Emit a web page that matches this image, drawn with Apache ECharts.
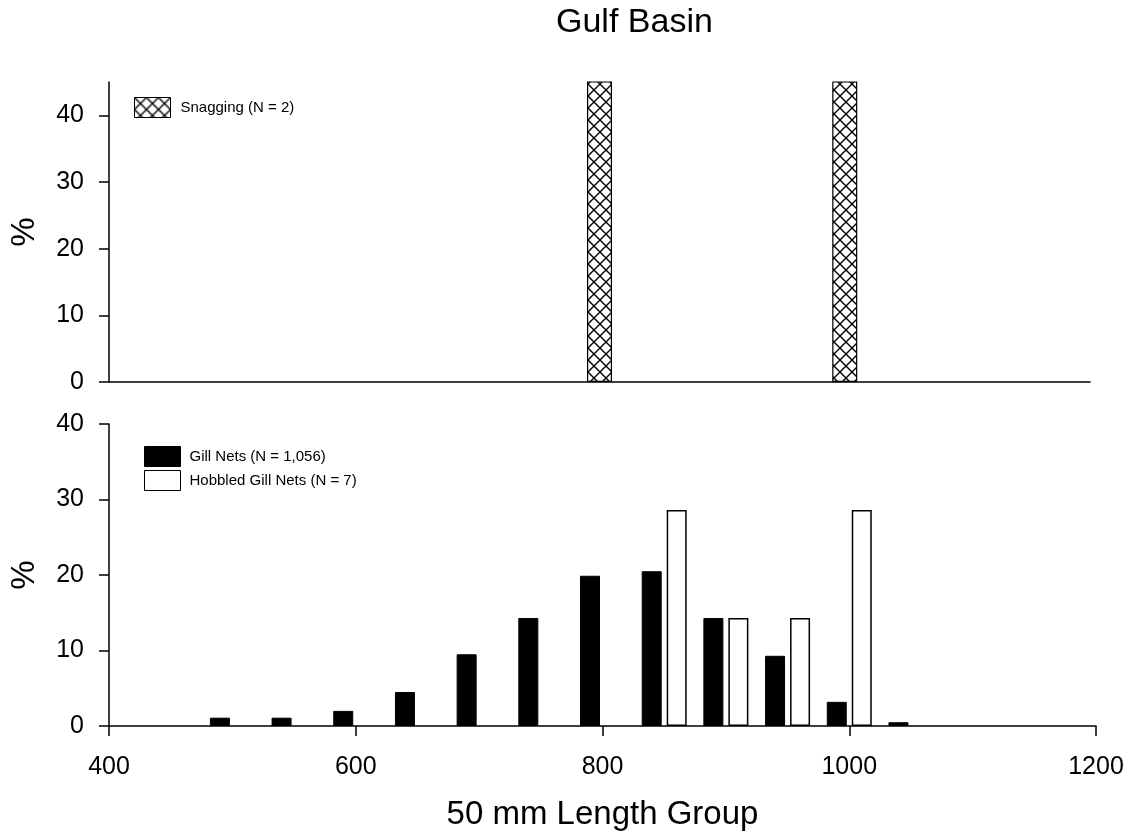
<!DOCTYPE html>
<html>
<head>
<meta charset="utf-8">
<title>Gulf Basin</title>
<script src="https://cdn.jsdelivr.net/npm/echarts@6/dist/echarts.min.js"></script>
<style>
  html, body { margin: 0; padding: 0; background: #fff; }
  #chart { width: 1131px; height: 833px; }
</style>
</head>
<body>
<div id="chart"></div>
<script>
// Length-frequency (%) by 50 mm length group, Gulf Basin
const snagGroups = [800, 1000];
const snagging = [50, 50];

const gillGroups = [500, 550, 600, 650, 700, 750, 800, 850, 900, 950, 1000, 1050];
const gillNets = [1.1, 1.1, 2.0, 4.5, 9.5, 14.3, 19.9, 20.5, 14.3, 9.3, 3.2, 0.5];

const hobbledGroups = [850, 900, 950, 1000];
const hobbledGillNets = [28.6, 14.3, 14.3, 28.6];

const xTicks = [400, 600, 800, 1000, 1200];
const yTicksTop = [0, 10, 20, 30, 40];
const yTicksBottom = [0, 10, 20, 30, 40];

const seriesNames = {
  snag: 'Snagging (N = 2)',
  gill: 'Gill Nets (N = 1,056)',
  hobbled: 'Hobbled Gill Nets (N = 7)'
};

const FONT = "'Liberation Sans', Arial, sans-serif";

// cross-hatch fill used for the snagging bars
function crossHatch(size) {
  const c = document.createElement('canvas');
  c.width = size; c.height = size;
  const g = c.getContext('2d');
  g.fillStyle = '#fff';
  g.fillRect(0, 0, size, size);
  g.strokeStyle = '#000';
  g.lineWidth = 1.4;
  g.beginPath();
  g.moveTo(-1, -1); g.lineTo(size + 1, size + 1);
  g.moveTo(size + 1, -1); g.lineTo(-1, size + 1);
  g.stroke();
  return c;
}
const hatchFill = { image: crossHatch(12), repeat: 'repeat' };

const axisLine = { show: true, lineStyle: { color: '#000', width: 1.5 } };
const tickStyle = { color: '#000', width: 1.5 };
const labelStyle = { color: '#000', fontSize: 25, fontFamily: FONT, formatter: v => String(v) };

function yAxisFor(gridIndex, max, ticks) {
  return {
    type: 'value', gridIndex: gridIndex, min: 0, max: max, interval: 10,
    name: '%', nameLocation: 'middle', nameGap: 68,
    nameTextStyle: { color: '#000', fontSize: 33, fontFamily: FONT },
    axisLine: axisLine,
    axisTick: { show: true, inside: false, length: 10, lineStyle: tickStyle, customValues: ticks },
    axisLabel: Object.assign({ margin: 25, customValues: ticks }, labelStyle),
    splitLine: { show: false }
  };
}

const chart = echarts.init(document.getElementById('chart'), null, { renderer: 'canvas' });

chart.setOption({
  animation: false,
  backgroundColor: '#fff',
  title: {
    text: 'Gulf Basin',
    left: 556, top: 6, padding: 0,
    textStyle: { color: '#000', fontSize: 34, fontWeight: 'normal', fontFamily: FONT }
  },
  legend: [
    {
      data: [seriesNames.snag],
      orient: 'vertical', left: 134, top: 97, padding: 0,
      itemWidth: 36, itemHeight: 20, itemGap: 3,
      selectedMode: false, icon: 'rect',
      itemStyle: { borderColor: '#000', borderWidth: 1 },
      textStyle: { color: '#000', fontSize: 15, fontFamily: FONT, padding: [0, 0, 0, 5] }
    },
    {
      data: [seriesNames.gill, seriesNames.hobbled],
      orient: 'vertical', left: 144, top: 446, padding: 0,
      itemWidth: 36, itemHeight: 20, itemGap: 3,
      selectedMode: false, icon: 'rect',
      itemStyle: { borderColor: '#000', borderWidth: 1 },
      textStyle: { color: '#000', fontSize: 15, fontFamily: FONT, padding: [0, 0, 0, 4] }
    }
  ],
  grid: [
    { left: 108, top: 82, width: 982, height: 300 },
    { left: 108, top: 424, width: 988, height: 302 }
  ],
  xAxis: [
    {
      type: 'value', gridIndex: 0, min: 400, max: 1200, interval: 200,
      axisLine: axisLine,
      axisTick: { show: false },
      axisLabel: { show: false },
      splitLine: { show: false }
    },
    {
      type: 'value', gridIndex: 1, min: 400, max: 1200, interval: 200,
      name: '50 mm Length Group', nameLocation: 'middle', nameGap: 72,
      nameTextStyle: { color: '#000', fontSize: 33, fontFamily: FONT },
      axisLine: axisLine,
      axisTick: { show: true, inside: false, length: 10, lineStyle: tickStyle, customValues: xTicks },
      axisLabel: Object.assign({ margin: 29, customValues: xTicks }, labelStyle),
      splitLine: { show: false }
    }
  ],
  yAxis: [
    yAxisFor(0, 45, yTicksTop),
    yAxisFor(1, 40, yTicksBottom)
  ],
  series: [
    {
      name: seriesNames.snag, type: 'bar',
      xAxisIndex: 0, yAxisIndex: 0,
      barWidth: 25, clip: true,
      itemStyle: { color: hatchFill, borderColor: '#000', borderWidth: 1.2 },
      data: snagGroups.map((g, i) => [g, snagging[i]])
    },
    {
      name: seriesNames.gill, type: 'bar',
      xAxisIndex: 1, yAxisIndex: 1,
      barWidth: 20,
      itemStyle: { color: '#000', borderColor: '#000', borderWidth: 1 },
      data: gillGroups.map((g, i) => [g, gillNets[i]])
    },
    {
      name: seriesNames.hobbled, type: 'bar',
      xAxisIndex: 1, yAxisIndex: 1,
      barWidth: 20, barGap: '25%',
      itemStyle: { color: '#fff', borderColor: '#000', borderWidth: 1.5 },
      data: hobbledGroups.map((g, i) => [g, hobbledGillNets[i]])
    }
  ]
});
</script>
</body>
</html>
